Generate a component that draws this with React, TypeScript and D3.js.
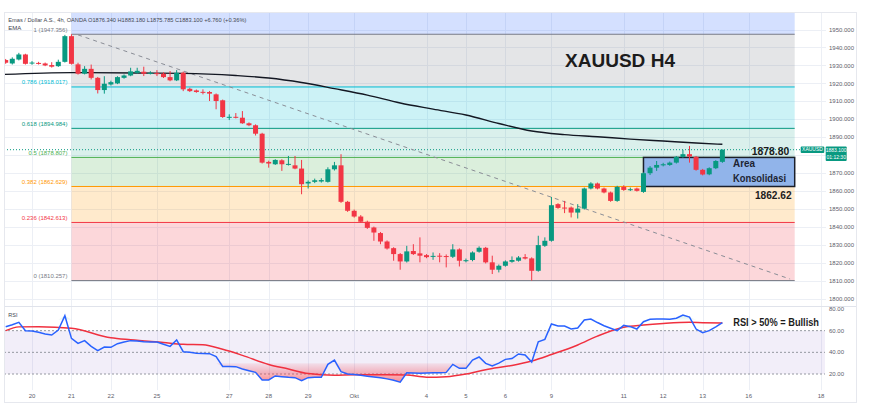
import React from 'react';
import * as d3 from 'd3';

// ---------------- DATA ----------------
const opens = [1933.0,1931.1,1933.3,1936.1,1931.3,1931.4,1931.1,1930.2,1929.6,1932.0,
1946.3,1930.6,1925.4,1928.1,1923.1,1916.3,1919.4,1920.0,1923.1,1924.4,
1925.9,1926.5,1925.9,1925.7,1925.4,1923.5,1921.7,1925.9,1917.0,1916.1,
1915.3,1915.2,1913.9,1910.6,1901.3,1901.4,1900.9,1897.8,1896.7,1892.0,
1876.3,1875.0,1877.2,1875.0,1874.4,1872.6,1864.3,1865.2,1865.4,1865.2,
1872.2,1874.4,1854.1,1849.1,1845.9,1843.0,1839.8,1836.7,1832.0,1828.3,
1825.0,1820.9,1826.7,1825.4,1824.4,1823.9,1824.1,1823.9,1823.5,1827.6,
1821.5,1821.7,1826.3,1828.5,1820.4,1816.3,1818.5,1820.7,1821.3,1823.3,
1822.6,1815.7,1829.6,1832.4,1852.8,1850.9,1850.9,1848.1,1850.3,1861.5,
1864.3,1861.5,1859.3,1854.6,1862.4,1861.0,1861.5,1859.6,1870.0,1873.1,
1874.4,1874.6,1875.9,1879.1,1880.6,1879.1,1871.9,1869.4,1872.8,1876.34];
const highs = [1933.6,1934.5,1937.0,1936.5,1932.4,1932.0,1931.6,1931.8,1933.2,1947.0,
1947.356,1931.5,1929.6,1930.5,1923.6,1924.0,1921.5,1924.0,1925.0,1928.7,
1928.7,1929.3,1926.8,1927.4,1926.2,1926.9,1927.4,1926.6,1917.6,1916.6,
1916.7,1915.8,1914.4,1911.0,1902.8,1903.5,1904.6,1898.3,1897.2,1892.5,
1877.0,1877.8,1877.8,1879.6,1879.6,1877.4,1866.0,1867.0,1867.2,1873.3,
1876.3,1880.6,1854.6,1849.8,1846.7,1843.6,1840.3,1837.3,1832.6,1828.8,
1825.6,1829.6,1830.5,1834.3,1825.0,1825.9,1825.5,1824.8,1830.5,1828.2,
1822.5,1826.5,1829.3,1829.0,1824.1,1819.2,1821.5,1823.7,1823.9,1825.0,
1823.2,1835.2,1834.3,1856.8,1853.3,1854.6,1851.5,1852.8,1862.0,1865.0,
1864.8,1862.0,1859.8,1863.0,1863.3,1862.0,1862.0,1870.5,1874.0,1876.8,
1875.8,1876.5,1879.6,1883.0,1885.2,1879.6,1872.4,1873.3,1877.3,1883.18];
const lows = [1930.9,1930.5,1932.8,1930.5,1930.4,1930.5,1929.6,1928.8,1929.2,1931.6,
1930.5,1924.9,1925.0,1922.2,1914.4,1914.3,1918.8,1919.6,1922.6,1924.0,
1925.4,1924.1,1925.0,1924.1,1923.0,1921.2,1921.3,1915.7,1915.2,1914.8,
1913.9,1910.2,1905.6,1900.8,1899.6,1900.5,1897.5,1896.2,1891.0,1875.4,
1873.1,1874.6,1871.3,1874.3,1872.2,1858.3,1861.5,1864.5,1864.8,1864.8,
1871.5,1853.5,1848.5,1845.3,1842.5,1839.0,1832.4,1830.5,1827.5,1821.3,
1816.3,1820.3,1824.5,1820.4,1822.7,1821.8,1820.4,1817.6,1822.8,1818.1,
1820.4,1821.0,1825.8,1819.8,1813.9,1814.8,1818.0,1820.2,1820.8,1822.0,
1810.257,1815.2,1829.0,1831.9,1850.2,1847.8,1845.4,1844.8,1849.8,1861.0,
1861.0,1858.8,1854.1,1854.1,1860.2,1860.1,1859.8,1859.1,1869.0,1871.3,
1873.8,1874.1,1875.4,1878.6,1875.9,1871.4,1868.8,1868.9,1872.3,1875.785];
const closes = [1931.5,1933.7,1936.1,1930.9,1931.6,1931.2,1930.0,1929.3,1932.0,1946.3,
1930.9,1925.4,1928.1,1923.1,1916.3,1919.8,1920.7,1923.5,1924.4,1926.7,
1927.0,1925.4,1925.9,1925.6,1923.5,1921.7,1925.9,1916.7,1915.7,1915.2,
1915.2,1914.3,1910.2,1901.3,1901.4,1901.3,1897.8,1896.7,1892.0,1875.9,
1875.4,1877.4,1875.0,1875.2,1872.6,1863.9,1865.2,1866.1,1866.2,1872.2,
1874.4,1854.1,1849.1,1845.9,1843.0,1839.6,1837.0,1832.0,1828.1,1825.0,
1820.9,1826.5,1825.0,1824.1,1823.3,1824.0,1824.0,1823.8,1827.6,1821.3,
1821.6,1825.9,1828.5,1820.4,1816.3,1818.5,1820.9,1821.7,1823.1,1822.5,
1815.7,1830.0,1832.4,1852.2,1850.7,1850.8,1848.1,1850.3,1861.5,1864.3,
1861.5,1859.3,1854.6,1862.4,1860.7,1861.1,1860.2,1870.0,1873.1,1874.6,
1875.0,1875.9,1879.1,1880.6,1879.3,1871.9,1869.3,1872.8,1876.8,1883.1];

const rsiValues = [63.7,65.5,67.7,60,59.7,58.5,57,56,60.6,73.8,
52.9,48.3,50.8,45.5,41.5,44.9,44.6,48,49.5,50.8,
50.5,49.8,49.6,49.5,47.5,45.5,51.4,40.6,40,39.1,
38.9,38.8,36,27,26.9,26.8,24.6,23,21.5,14.5,
14.5,18.2,17.5,16.9,16.6,13.8,16.6,16.9,17,28.9,
32.9,22.2,20,19.5,18.8,18,17.3,16.6,15.5,14.3,
12.5,21.2,21,20.6,21,21.2,21.2,21.5,28.9,25.2,
25.2,32.9,35.7,29.8,27.4,30,33.5,34.2,38.5,37.5,
31,49.8,52,66.2,64.3,64.3,61.5,62.5,69.8,70.8,
67.5,64.5,62.2,60,64.9,63.7,61.5,68.3,70.5,70.8,
70.8,70.5,71.5,74.5,72.5,61.5,58.2,60,63.5,67.4];

const rsiMaIdx = [0,2,5,10,16,19,24,27,30,33,36,40,43,46,50,53,58,61,64,67,70,73,77,80,83,87,90,94,97,100,104,106,109];
const rsiMaValues = [60,63.5,63.7,62.2,53.5,51.6,49,47.4,46.9,42.8,37.2,28.8,24.6,20.4,18.8,19.4,19.4,19.1,17,17.5,20,24,27.9,32,38,46.8,55,63.2,65.2,66.6,67.7,67.4,67.1];

const emaIdx = [-0.2,10,20,27,35,40,45,50,55,60,65,70,75,80,85,90,95,100,105,109];
const emaValues = [1925.0,1926.0,1925.8,1925.6,1924.4,1923.0,1920.5,1917.1,1913.5,1909.1,1905.7,1902.4,1897.7,1893.5,1891.5,1890.3,1889.0,1887.9,1886.8,1886.1];

const fibRatios = [1, 0.786, 0.618, 0.5, 0.382, 0.236, 0];
const fibPrices = [1947.356, 1918.017, 1894.984, 1878.807, 1862.629, 1842.613, 1810.257];
const fibAnchorIdx = [10, 120];

const trendIdx = [11, 119.3];
const trendPrice = [1947.0, 1811.1];

const zoneIdx = [97, 120];
const zonePrices = [1878.80, 1862.62];

const dateLabels = ['20','21','22','25','27','28','29','Okt','4','5','6','9','11','12','13','16','18'];
const dateIdx = [4,10,16,23,34,40,46,53,64,70,76,83,94,100,106,113,124];

const priceTicks = [1800,1810,1820,1830,1840,1850,1860,1870,1880,1890,1900,1910,1920,1930,1940,1950];
const rsiTicks = [20,40,60,80];
const rsiBand = [60, 40, 20];

const lastPrice = 1883.1;

// ---------------- STYLE ----------------
const FONT = "'Liberation Sans', Arial, sans-serif";
const UP = '#089981';
const DOWN = '#f23645';
const fibLineColors = ['#787b86', '#00bcd4', '#089981', '#4caf50', '#ff9800', '#f23645', '#787b86'];
const fibFillColors = ['rgba(120,123,134,0.2)', 'rgba(0,188,212,0.2)', 'rgba(8,153,129,0.15)', 'rgba(76,175,80,0.2)', 'rgba(255,152,0,0.2)', 'rgba(242,54,69,0.2)'];
const fibTopFill = 'rgba(41,98,255,0.2)';

const L = 4, R = 826, FR = 856;
const MAIN_T = 12, MAIN_B = 306;
const RSI_T = 307, RSI_B = 390;
const BOTTOM = 402;

export default function App() {
  const x = d3.scaleLinear().domain([0, 124]).range([5.7, 821]);
  const y = d3.scaleLinear().domain([1800, 1950]).range([299, 29.5]);
  const r = d3.scaleLinear().domain([20, 80]).range([374, 309]);

  const fx0 = x(fibAnchorIdx[0]);
  const fx1 = x(fibAnchorIdx[1]);

  const emaLine = d3.line<number>()
    .x((_, i) => x(emaIdx[i]))
    .y((d) => y(d))
    .curve(d3.curveMonotoneX)(emaValues) || '';

  const rsiLine = d3.line<number>()
    .x((_, i) => x(i))
    .y((d) => r(d))(rsiValues) || '';

  const maLine = d3.line<number>()
    .x((_, i) => x(rsiMaIdx[i]))
    .y((d) => r(d))
    .curve(d3.curveMonotoneX)(rsiMaValues) || '';

  const osArea = d3.area<number>()
    .x((_, i) => x(i))
    .y0(() => r(30))
    .y1((d) => r(Math.min(d, 30)))(rsiValues) || '';
  const obArea = d3.area<number>()
    .x((_, i) => x(i))
    .y0(() => r(70))
    .y1((d) => r(Math.max(d, 70)))(rsiValues) || '';

  const fmt3 = d3.format('.3f');
  const fmt2 = d3.format('.2f');
  const bodyW = 5;

  const py = y(lastPrice);
  const tagTop = py - 3.3;
  const tagBot = py + 11.2;
  const visibleTicks = priceTicks.filter((t) => y(t) < tagTop - 3 || y(t) > tagBot + 3);

  return (
    <svg width={870} height={419} style={{ position: 'absolute', left: 0, top: 0, background: '#fff' }} fontFamily={FONT}>
      <defs>
        <clipPath id="mainClip"><rect x={L} y={MAIN_T} width={R - L} height={MAIN_B - MAIN_T} /></clipPath>
        <clipPath id="rsiClip"><rect x={L} y={RSI_T} width={R - L} height={RSI_B - RSI_T} /></clipPath>
        <linearGradient id="osGrad" gradientUnits="userSpaceOnUse" x1="0" x2="0" y1={r(30)} y2={r(10)}>
          <stop offset="0" stopColor={DOWN} stopOpacity={0.08} />
          <stop offset="1" stopColor={DOWN} stopOpacity={0.65} />
        </linearGradient>
        <linearGradient id="obGrad" gradientUnits="userSpaceOnUse" x1="0" x2="0" y1={r(70)} y2={r(90)}>
          <stop offset="0" stopColor={UP} stopOpacity={0.05} />
          <stop offset="1" stopColor={UP} stopOpacity={0.6} />
        </linearGradient>
      </defs>
      <rect x={0} y={0} width={870} height={419} fill="#fff" />

      {/* grid */}
      <g stroke="#eceff5" strokeWidth={1}>
        {priceTicks.map((t) => (
          <line key={'hg' + t} x1={L} x2={R} y1={Math.round(y(t)) + 0.5} y2={Math.round(y(t)) + 0.5} />
        ))}
        {dateIdx.map((d) => (
          <line key={'vg' + d} x1={Math.round(x(d)) + 0.5} x2={Math.round(x(d)) + 0.5} y1={MAIN_T} y2={RSI_B} />
        ))}
      </g>

      {/* main pane */}
      <g clipPath="url(#mainClip)">
        <rect x={fx0} y={MAIN_T} width={fx1 - fx0} height={y(fibPrices[0]) - MAIN_T} fill={fibTopFill} />
        {fibFillColors.map((c, i) => (
          <rect key={'ff' + i} x={fx0} y={y(fibPrices[i])} width={fx1 - fx0} height={y(fibPrices[i + 1]) - y(fibPrices[i])} fill={c} />
        ))}
        {fibPrices.map((p, i) => (
          <line key={'fl' + i} x1={fx0} x2={fx1} y1={y(p)} y2={y(p)} stroke={fibLineColors[i]} strokeWidth={1} />
        ))}
        {fibPrices.map((p, i) => (
          <text key={'ft' + i} x={fx0 - 4} y={y(p) - 2.5} fontSize={6} textAnchor="end" fill={fibLineColors[i]}>
            {`${fibRatios[i]} (${fmt3(p)})`}
          </text>
        ))}

        {/* current price dotted line */}
        <line x1={L} x2={R} y1={py} y2={py} stroke={UP} strokeWidth={1} strokeDasharray="1,2" />

        {/* consolidation zone */}
        <rect x={x(zoneIdx[0])} y={y(zonePrices[0])} width={x(zoneIdx[1]) - x(zoneIdx[0])}
          height={y(zonePrices[1]) - y(zonePrices[0])} fill="#91b4ea" stroke="#1b1f2a" strokeWidth={1.5} />

        {/* trend line */}
        <line x1={x(trendIdx[0])} y1={y(trendPrice[0])} x2={x(trendIdx[1])} y2={y(trendPrice[1])}
          stroke="#8a8d96" strokeWidth={1} strokeDasharray="4,4" />

        {/* EMA */}
        <path d={emaLine} fill="none" stroke="#131722" strokeWidth={1.4} />

        {/* candles */}
        {closes.map((c, i) => {
          const o = opens[i];
          const col = c >= o ? UP : DOWN;
          const top = y(Math.max(o, c));
          const bot = y(Math.min(o, c));
          const cx = x(i);
          return (
            <g key={'c' + i}>
              <line x1={cx} x2={cx} y1={y(highs[i])} y2={y(lows[i])} stroke={col} strokeWidth={1} />
              <rect x={cx - bodyW / 2} y={top} width={bodyW} height={Math.max(1, bot - top)} fill={col} />
            </g>
          );
        })}

        {/* annotations */}
        <text x={620} y={67} fontSize={18.5} fontWeight={700} textAnchor="middle" fill="#1c1c1c"
          textLength={110} lengthAdjust="spacingAndGlyphs">XAUUSD H4</text>
        <text x={770.5} y={155} fontSize={10.5} fontWeight={700} textAnchor="middle" fill="#1c1c1c"
          textLength={37.6} lengthAdjust="spacingAndGlyphs">{fmt2(zonePrices[0])}</text>
        <text x={773.3} y={199} fontSize={10.5} fontWeight={700} textAnchor="middle" fill="#1c1c1c"
          textLength={36.7} lengthAdjust="spacingAndGlyphs">{fmt2(zonePrices[1])}</text>
        <text x={733} y={167.3} fontSize={10} fontWeight={700} fill="#1d2433"
          textLength={22} lengthAdjust="spacingAndGlyphs">Area</text>
        <text x={733} y={181.5} fontSize={10} fontWeight={700} fill="#1d2433"
          textLength={53} lengthAdjust="spacingAndGlyphs">Konsolidasi</text>
      </g>

      {/* header */}
      <text x={8.3} y={22} fontSize={6} fill="#434651" textLength={238} lengthAdjust="spacingAndGlyphs">
        Emas / Dollar A.S., 4h, OANDA  O1876.340  H1883.180  L1875.785  C1883.100  +6.760 (+0.36%)
      </text>
      <text x={8.3} y={30} fontSize={6} fill="#434651">EMA</text>

      {/* price axis */}
      {visibleTicks.map((t) => (
        <text key={'pt' + t} x={829} y={y(t)} dy="0.35em" fontSize={6} fill="#5d606b">{fmt3(t)}</text>
      ))}
      {/* price tag */}
      <rect x={800.7} y={tagTop} width={23.6} height={6.6} fill={UP} rx={1} />
      <text x={812.5} y={py} dy="0.35em" fontSize={5} textAnchor="middle" fill="#fff">XAUUSD</text>
      <rect x={825.7} y={tagTop} width={21} height={tagBot - tagTop} fill={UP} rx={1} />
      <text x={836.2} y={py + 0.3} dy="0.35em" fontSize={5} textAnchor="middle" fill="#fff">{fmt3(lastPrice)}</text>
      <text x={836.2} y={py + 7.3} dy="0.35em" fontSize={5} textAnchor="middle" fill="#fff">01:12:30</text>

      {/* pane separator */}
      <line x1={L} x2={FR} y1={306.5} y2={306.5} stroke="#e0e3eb" strokeWidth={1} />

      {/* RSI pane */}
      <rect x={L} y={r(rsiBand[0])} width={R - L - 1} height={r(rsiBand[2]) - r(rsiBand[0])} fill="rgba(126,87,194,0.1)" />
      {rsiBand.map((b) => (
        <line key={'rb' + b} x1={L} x2={R - 1} y1={r(b)} y2={r(b)} stroke="#9598a1" strokeWidth={1} strokeDasharray="2,2" />
      ))}
      <g clipPath="url(#rsiClip)">
        <path d={osArea} fill="url(#osGrad)" />
        <path d={obArea} fill="url(#obGrad)" />
        <path d={maLine} fill="none" stroke="#f0303f" strokeWidth={1.5} />
        <path d={rsiLine} fill="none" stroke="#2962ff" strokeWidth={1.5} />
      </g>
      <text x={8.3} y={316.5} fontSize={5.5} fill="#434651">RSI</text>
      {rsiTicks.map((t) => (
        <text key={'rt' + t} x={829} y={r(t)} dy="0.35em" fontSize={6} fill="#5d606b">{fmt2(t)}</text>
      ))}
      <text x={733.3} y={326} fontSize={11} fontWeight={700} fill="#1c1c1c"
        textLength={85.7} lengthAdjust="spacingAndGlyphs">{'RSI > 50% = Bullish'}</text>

      {/* time axis */}
      {dateIdx.map((d, i) => (
        <text key={'dt' + d} x={x(d)} y={396} dy="0.35em" fontSize={6} textAnchor="middle" fill="#5d606b">{dateLabels[i]}</text>
      ))}

      {/* frame */}
      <rect x={L + 0.5} y={MAIN_T + 0.5} width={FR - L} height={BOTTOM - MAIN_T} fill="none" stroke="#e6e8ee" strokeWidth={1} />
    </svg>
  );
}
